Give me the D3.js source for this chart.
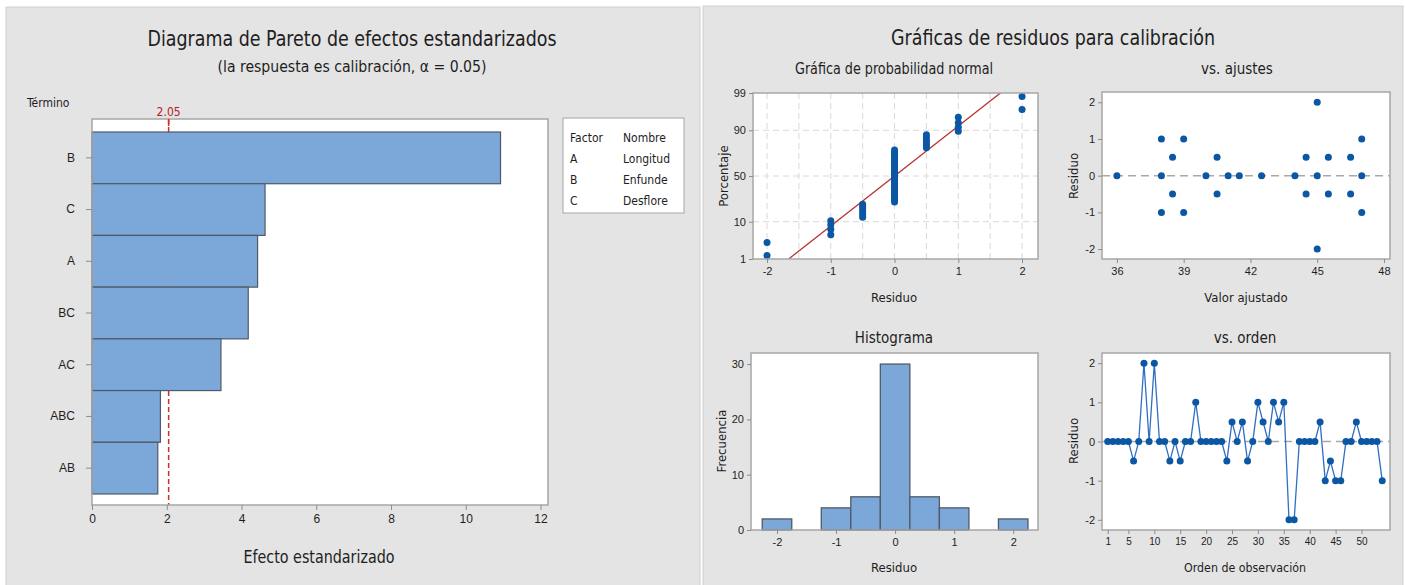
<!DOCTYPE html>
<html>
<head>
<meta charset="utf-8">
<script src="https://cdn.jsdelivr.net/npm/d3@7"></script>
<style>
body { margin: 0; background: #fff; }
svg { display: block; font-family: "Liberation Sans Narrow", "DejaVu Sans Condensed", "Open Sans", sans-serif; }
</style>
</head>
<body>
<svg id="chart" width="1405" height="585"></svg>
<script>
// pareto data
var terms = ["B", "C", "A", "BC", "AC", "ABC", "AB"];
var effects = [10.93, 4.63, 4.43, 4.18, 3.45, 1.83, 1.76];
var critical = 2.05;
var paretoTicks = [0, 2, 4, 6, 8, 10, 12];
var factorCodes = ["A", "B", "C"];
var factorNames = ["Longitud", "Enfunde", "Desflore"];

// residuals in observation order
var residuals = [0, 0, 0, 0, 0, -0.5, 0, 2, 0, 2, 0, 0, -0.5, 0, -0.5, 0, 0, 1, 0, 0, 0, 0, 0, -0.5,
  0.5, 0, 0.5, -0.5, 0, 1, 0.5, 0, 1, 0.5, 1, -2, -2, 0, 0, 0, 0, 0.5, -1, -0.5, -1, -1, 0, 0, 0.5,
  0, 0, 0, 0, -1];
var orderTicks = [1, 5, 10, 15, 20, 25, 30, 35, 40, 45, 50];

// residuals vs fitted
var fitted = [36, 38, 38, 38, 38.5, 38.5, 39, 39, 40, 40.5, 40.5, 41, 41.5, 42.5, 44, 44.5, 44.5,
  45, 45, 45, 45.5, 45.5, 46.5, 46.5, 47, 47, 47];
var fitResid = [0, 1, 0, -1, 0.5, -0.5, 1, -1, 0, 0.5, -0.5, 0, 0, 0, 0, 0.5, -0.5, 2, 0, -2, 0.5,
  -0.5, 0.5, -0.5, 1, 0, -1];
var fitTicks = [36, 39, 42, 45, 48];

// histogram
var histMids = [-2, -1.5, -1, -0.5, 0, 0.5, 1, 1.5, 2];
var histCounts = [2, 0, 4, 6, 30, 6, 4, 0, 2];
var histWidth = 0.5;

var probTicks = [1, 10, 50, 90, 99];
var residTicks = [-2, -1, 0, 1, 2];
var freqTicks = [0, 10, 20, 30];

var dotColor = "#0b57a4";
var lineColor = "#2f6fc4";
var barColor = "#7ba7d9";
var frameColor = "#a6a6a6";
var textColor = "#1e1e1e";
var fmt = function (d) { return String(d); };

var svg = d3.select("#chart");

// inverse normal cdf (Acklam)
function probit(p) {
  var a = [-39.69683028665376, 220.9460984245205, -275.9285104469687, 138.3577518672690, -30.66479806614716, 2.506628277459239];
  var b = [-54.47609879822406, 161.5853275203647, -155.6989798598866, 66.80131188771972, -13.28068155288572];
  var c = [-0.007784894002430293, -0.3223964580411365, -2.400758277161838, -2.549732539343734, 4.374664141464968, 2.938163982698783];
  var d = [0.007784695709041462, 0.3224671290700398, 2.445134137142996, 3.754408661907416];
  var q, r;
  if (p < 0.02425) {
    q = Math.sqrt(-2 * Math.log(p));
    return (((((c[0] * q + c[1]) * q + c[2]) * q + c[3]) * q + c[4]) * q + c[5]) / ((((d[0] * q + d[1]) * q + d[2]) * q + d[3]) * q + 1);
  }
  if (p > 1 - 0.02425) {
    q = Math.sqrt(-2 * Math.log(1 - p));
    return -(((((c[0] * q + c[1]) * q + c[2]) * q + c[3]) * q + c[4]) * q + c[5]) / ((((d[0] * q + d[1]) * q + d[2]) * q + d[3]) * q + 1);
  }
  q = p - 0.5;
  r = q * q;
  return (((((a[0] * r + a[1]) * r + a[2]) * r + a[3]) * r + a[4]) * r + a[5]) * q / (((((b[0] * r + b[1]) * r + b[2]) * r + b[3]) * r + b[4]) * r + 1);
}

function label(g, x, y, txt, size, anchor, rot) {
  var t = g.append("text")
    .attr("x", x).attr("y", y)
    .attr("font-size", size)
    .attr("fill", textColor)
    .attr("text-anchor", anchor || "middle")
    .text(txt);
  if (rot) t.attr("transform", "rotate(-90," + x + "," + y + ")");
  return t;
}
// squeeze wide title text to the reference width
function fit(t, w) {
  t.attr("textLength", w).attr("lengthAdjust", "spacingAndGlyphs");
  return t;
}

function styleAxis(a, size) {
  a.select(".domain").remove();
  a.selectAll(".tick line").attr("stroke", "#8c8c8c");
  a.selectAll(".tick text").attr("fill", textColor).attr("font-size", size).attr("font-family", null);
}

// frame: white plot area + border
function frame(g, x, y) {
  g.append("rect")
    .attr("x", x.range()[0]).attr("y", y.range()[1])
    .attr("width", x.range()[1] - x.range()[0])
    .attr("height", y.range()[0] - y.range()[1])
    .attr("fill", "#fff");
}
function border(g, x, y) {
  g.append("rect")
    .attr("x", x.range()[0]).attr("y", y.range()[1])
    .attr("width", x.range()[1] - x.range()[0])
    .attr("height", y.range()[0] - y.range()[1])
    .attr("fill", "none")
    .attr("stroke", frameColor)
    .attr("stroke-width", 1.5);
}

// panels
svg.append("rect").attr("x", 6).attr("y", 7).attr("width", 694).attr("height", 580)
  .attr("fill", "#e4e4e4").attr("stroke", "#d0d0d0");
svg.append("rect").attr("x", 703).attr("y", 6).attr("width", 700).attr("height", 581)
  .attr("fill", "#e4e4e4").attr("stroke", "#d0d0d0");

// ---------- Pareto ----------
var pg = svg.append("g");
var px = d3.scaleLinear().domain([0, 12.2]).range([92, 548]);
var py = d3.scaleBand().domain(terms).range([132, 494]);
var pyBox = d3.scaleLinear().range([505, 119]);

frame(pg, px, pyBox);

pg.append("line")
  .attr("x1", px(critical)).attr("x2", px(critical))
  .attr("y1", 119).attr("y2", 505)
  .attr("stroke", "#d42a2a").attr("stroke-width", 1.5)
  .attr("stroke-dasharray", "5,3");

pg.selectAll(".bar")
  .data(terms)
  .enter().append("rect")
  .attr("class", "bar")
  .attr("x", px(0))
  .attr("y", function (d) { return py(d); })
  .attr("width", function (d, i) { return px(effects[i]) - px(0); })
  .attr("height", py.bandwidth())
  .attr("fill", barColor)
  .attr("stroke", "#505a66")
  .attr("stroke-width", 1.2);

border(pg, px, pyBox);

var pxAxis = pg.append("g").attr("transform", "translate(0,505)")
  .call(d3.axisBottom(px).tickValues(paretoTicks).tickFormat(fmt).tickSize(5).tickPadding(4));
styleAxis(pxAxis, 12);
var pyAxis = pg.append("g").attr("transform", "translate(92,0)")
  .call(d3.axisLeft(py).tickSize(6).tickPadding(11));
styleAxis(pyAxis, 12);

label(pg, px(critical), 116, critical.toFixed(2), 12).attr("fill", "#b22222");
pg.append("line").attr("x1", px(critical)).attr("x2", px(critical))
  .attr("y1", 119).attr("y2", 126).attr("stroke", "#d42a2a").attr("stroke-width", 1.5);

fit(label(pg, 352, 46, "Diagrama de Pareto de efectos estandarizados", 22), 409);
fit(label(pg, 352, 72, "(la respuesta es calibración, α = 0.05)", 16.5), 269);
label(pg, 27, 107, "Término", 12, "start");
fit(label(pg, 319, 563, "Efecto estandarizado", 17), 151);

// legend
pg.append("rect").attr("x", 563).attr("y", 118).attr("width", 121).attr("height", 95)
  .attr("fill", "#fff").attr("stroke", frameColor);
label(pg, 570, 142, "Factor", 12, "start");
label(pg, 623, 142, "Nombre", 12, "start");
factorCodes.forEach(function (f, i) {
  label(pg, 570, 163 + i * 21, f, 12, "start");
  label(pg, 623, 163 + i * 21, factorNames[i], 12, "start");
});

// ---------- right panel ----------
var rg = svg.append("g");
fit(label(rg, 1053, 45, "Gráficas de residuos para calibración", 22), 324);

// normal probability plot
var sorted = residuals.slice().sort(d3.ascending);
var n = sorted.length;
var mean = d3.mean(residuals);
var sd = d3.deviation(residuals);
var nx = d3.scaleLinear().domain([-2.22, 2.25]).range([753, 1038]);
var ny = d3.scaleLinear().domain([probit(0.01), probit(0.99)]).range([259, 93]);
frame(rg, nx, ny);
var ng = rg.append("g");
d3.range(-2, 2.01, 0.5).forEach(function (v) {
  ng.append("line").attr("x1", nx(v)).attr("x2", nx(v)).attr("y1", 93).attr("y2", 259)
    .attr("stroke", "#d8d8d8").attr("stroke-dasharray", "6,4");
});
[10, 50, 90].forEach(function (v) {
  ng.append("line").attr("x1", 753).attr("x2", 1038).attr("y1", ny(probit(v / 100))).attr("y2", ny(probit(v / 100)))
    .attr("stroke", "#d8d8d8").attr("stroke-dasharray", "6,4");
});
rg.append("clipPath").attr("id", "nclip").append("rect")
  .attr("x", 753).attr("y", 93).attr("width", 285).attr("height", 166);
rg.append("line")
  .attr("clip-path", "url(#nclip)")
  .attr("x1", nx(mean + sd * probit(0.01))).attr("y1", ny(probit(0.01)))
  .attr("x2", nx(mean + sd * probit(0.999))).attr("y2", ny(probit(0.999)))
  .attr("stroke", "#b83232").attr("stroke-width", 1.3);
rg.selectAll(".npt")
  .data(sorted)
  .enter().append("circle")
  .attr("class", "npt")
  .attr("cx", function (d) { return nx(d); })
  .attr("cy", function (d, i) { return ny(probit((i + 1 - 0.3) / (n + 0.4))); })
  .attr("r", 3.5)
  .attr("fill", dotColor);
border(rg, nx, ny);
styleAxis(rg.append("g").attr("transform", "translate(0,259)")
  .call(d3.axisBottom(nx).tickValues(residTicks).tickFormat(fmt).tickSize(4).tickPadding(4)), 11);
styleAxis(rg.append("g").attr("transform", "translate(753,0)")
  .call(d3.axisLeft(ny).tickValues(probTicks.map(function (v) { return probit(v / 100); }))
    .tickFormat(function (d, i) { return probTicks[i]; }).tickSize(4).tickPadding(3)), 11);
fit(label(rg, 894, 74, "Gráfica de probabilidad normal", 15), 198);
label(rg, 894, 302, "Residuo", 13);
label(rg, 728, 176, "Porcentaje", 13, "middle", true);

// vs fits
var fx = d3.scaleLinear().domain([35.33, 48.27]).range([1102, 1390]);
var fy = d3.scaleLinear().domain([-2.27, 2.28]).range([259, 92]);
frame(rg, fx, fy);
rg.append("line").attr("x1", 1102).attr("x2", 1390).attr("y1", fy(0)).attr("y2", fy(0))
  .attr("stroke", "#a8a8a8").attr("stroke-width", 1.5).attr("stroke-dasharray", "8,5");
rg.selectAll(".fpt")
  .data(fitted)
  .enter().append("circle")
  .attr("class", "fpt")
  .attr("cx", function (d) { return fx(d); })
  .attr("cy", function (d, i) { return fy(fitResid[i]); })
  .attr("r", 3.5)
  .attr("fill", dotColor);
border(rg, fx, fy);
styleAxis(rg.append("g").attr("transform", "translate(0,259)")
  .call(d3.axisBottom(fx).tickValues(fitTicks).tickFormat(fmt).tickSize(4).tickPadding(4)), 11);
styleAxis(rg.append("g").attr("transform", "translate(1102,0)")
  .call(d3.axisLeft(fy).tickValues(residTicks).tickFormat(fmt).tickSize(4).tickPadding(3)), 11);
label(rg, 1237, 74, "vs. ajustes", 15);
label(rg, 1246, 302, "Valor ajustado", 13);
label(rg, 1078, 176, "Residuo", 13, "middle", true);

// histogram
var hx = d3.scaleLinear().domain([-2.44, 2.42]).range([751, 1038]);
var hy = d3.scaleLinear().domain([0, 32]).range([530, 353]);
frame(rg, hx, hy);
rg.selectAll(".hbar")
  .data(histMids)
  .enter().append("rect")
  .attr("class", "hbar")
  .attr("x", function (d) { return hx(d - histWidth / 2); })
  .attr("y", function (d, i) { return hy(histCounts[i]); })
  .attr("width", function (d) { return hx(d + histWidth / 2) - hx(d - histWidth / 2); })
  .attr("height", function (d, i) { return hy(0) - hy(histCounts[i]); })
  .attr("fill", barColor)
  .attr("stroke", "#505a66")
  .attr("stroke-width", 1.3);
border(rg, hx, hy);
styleAxis(rg.append("g").attr("transform", "translate(0,530)")
  .call(d3.axisBottom(hx).tickValues(residTicks).tickFormat(fmt).tickSize(4).tickPadding(4)), 11);
styleAxis(rg.append("g").attr("transform", "translate(751,0)")
  .call(d3.axisLeft(hy).tickValues(freqTicks).tickFormat(fmt).tickSize(4).tickPadding(3)), 11);
label(rg, 894, 343, "Histograma", 15);
label(rg, 894, 572, "Residuo", 13);
label(rg, 726, 441, "Frecuencia", 13, "middle", true);

// vs order
var ox = d3.scaleLinear().domain([-0.1, 55.5]).range([1102, 1390]);
var oy = d3.scaleLinear().domain([-2.26, 2.26]).range([530, 353]);
frame(rg, ox, oy);
rg.append("line").attr("x1", 1102).attr("x2", 1390).attr("y1", oy(0)).attr("y2", oy(0))
  .attr("stroke", "#a8a8a8").attr("stroke-width", 1.5).attr("stroke-dasharray", "8,5");
rg.append("path")
  .datum(residuals)
  .attr("d", d3.line().x(function (d, i) { return ox(i + 1); }).y(function (d) { return oy(d); }))
  .attr("fill", "none")
  .attr("stroke", lineColor)
  .attr("stroke-width", 1.3);
rg.selectAll(".opt")
  .data(residuals)
  .enter().append("circle")
  .attr("class", "opt")
  .attr("cx", function (d, i) { return ox(i + 1); })
  .attr("cy", function (d) { return oy(d); })
  .attr("r", 3.5)
  .attr("fill", dotColor);
border(rg, ox, oy);
styleAxis(rg.append("g").attr("transform", "translate(0,530)")
  .call(d3.axisBottom(ox).tickValues(orderTicks).tickFormat(fmt).tickSize(4).tickPadding(4)), 10);
styleAxis(rg.append("g").attr("transform", "translate(1102,0)")
  .call(d3.axisLeft(oy).tickValues(residTicks).tickFormat(fmt).tickSize(4).tickPadding(3)), 11);
label(rg, 1245, 343, "vs. orden", 15);
fit(label(rg, 1245, 572, "Orden de observación", 13), 122);
label(rg, 1078, 441, "Residuo", 13, "middle", true);
</script>
</body>
</html>
